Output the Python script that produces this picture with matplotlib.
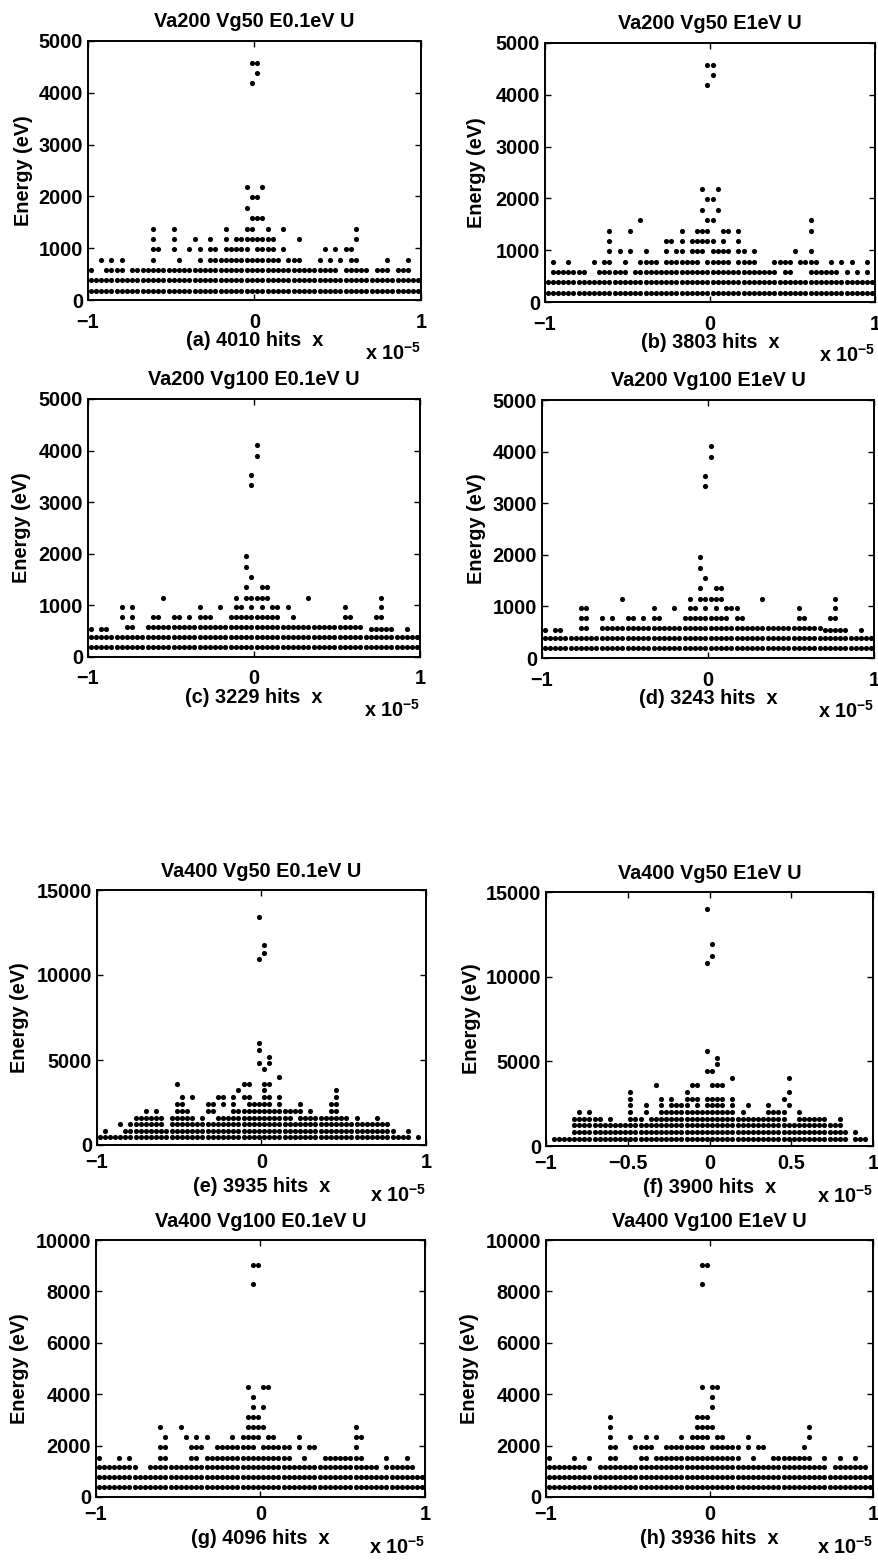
import numpy as np
import matplotlib
matplotlib.use("Agg")
import matplotlib.pyplot as plt

plt.rcParams['font.family'] = ['Liberation Sans', 'DejaVu Sans']
plt.rcParams['font.weight'] = 'bold'
plt.rcParams['mathtext.fontset'] = 'custom'
plt.rcParams['mathtext.rm'] = 'Liberation Sans:bold'
plt.rcParams['mathtext.default'] = 'regular'

# ---------------------------------------------------------------------------
# Hit data: each row is (energy in eV, occupied detector columns).
# Detector has 64 columns spanning x = -1 .. 1 (units of 1e-5).
# ---------------------------------------------------------------------------
N_COLS = 64

titles = ["Va200 Vg50 E0.1eV U", "Va200 Vg50 E1eV U",
          "Va200 Vg100 E0.1eV U", "Va200 Vg100 E1eV U",
          "Va400 Vg50 E0.1eV U", "Va400 Vg50 E1eV U",
          "Va400 Vg100 E0.1eV U", "Va400 Vg100 E1eV U"]

hit_labels = ["(a) 4010 hits  x", "(b) 3803 hits  x",
              "(c) 3229 hits  x", "(d) 3243 hits  x",
              "(e) 3935 hits  x", "(f) 3900 hits  x",
              "(g) 4096 hits  x", "(h) 3936 hits  x"]

y_max = [5000, 5000, 5000, 5000, 15000, 15000, 10000, 10000]
y_step = [1000, 1000, 1000, 1000, 5000, 5000, 2000, 2000]

x_ticks = [-1, 0, 1]
x_tick_labels = ["\u22121", "0", "1"]
x_ticks_f = [-1, -0.5, 0, 0.5, 1]
x_tick_labels_f = ["\u22121", "\u22120.5", "0", "0.5", "1"]

a_rows = [
    (180, "0-63"),
    (380, "0-63"),
    (580, "0,3-6,8-47,49-53,55-57,59-61"),
    (780, "2,4,6,12,17,21,23-36,38-40,44,46,48,50,51,57,61"),
    (980, "12,13,16,19,21,23,24,26-30,32-35,37,45,47,49,50"),
    (1180, "12,16,20,23,26,28-35,40,51"),
    (1380, "12,16,26,30,31,34,37,51"),
    (1580, "31,32,33"),
    (1780, "30"),
    (1980, "31,32"),
    (2180, "30,33"),
    (4180, "31"),
    (4380, "32"),
    (4580, "31,32"),
]

b_rows = [
    (180, "0-63"),
    (380, "0-63"),
    (580, "1-7,10-15,17-44,46,47,51-56,58,60,62"),
    (780, "1,4,9,11,12,15,18-21,23-29,31-35,37-40,44-47,49-52,55,57,59,62"),
    (980, "12,14,16,19,23,25,26,28-30,32-35,37,38,40,48,51"),
    (1180, "12,23,24,26,28-32,34,37"),
    (1380, "12,16,26,29-31,34,35,37,51"),
    (1580, "18,31,32,51"),
    (1780, "30,33"),
    (1980, "31,32"),
    (2180, "30,33"),
    (4180, "31"),
    (4380, "32"),
    (4580, "31,32"),
]

c_rows = [
    (190, "0-63"),
    (385, "0-63"),
    (540, "0,2,3,54-58,61"),
    (575, "7,8,11-52"),
    (770, "6,8,12,13,16,17,19,21-23,27-36,39,49,50,55,56"),
    (960, "6,8,21,25,28,29,31,33,35,36,38,49,56"),
    (1150, "14,28,30-34,42,56"),
    (1350, "30,33,34"),
    (1550, "31"),
    (1750, "30"),
    (1950, "30"),
    (3330, "31"),
    (3530, "31"),
    (3900, "32"),
    (4100, "32"),
]

d_rows = [
    (190, "0-63"),
    (385, "0-63"),
    (540, "0,2,3,54-58,61"),
    (575, "7,8,11-53"),
    (770, "7,8,11,13,16,17,19,21,22,27-35,37,38,49,50,55,56"),
    (960, "7,8,21,25,28,29,31,33,35-37,49,56"),
    (1150, "15,28,30-34,42,56"),
    (1350, "30,33,34"),
    (1550, "31"),
    (1750, "30"),
    (1950, "30"),
    (3330, "31"),
    (3530, "31"),
    (3900, "32"),
    (4100, "32"),
]

e_rows = [
    (455, "0-60,62"),
    (840, "1,5-57,60"),
    (1215, "4,6-12,14-56"),
    (1610, "7-12,14-18,20,23-37,39-48,50,54"),
    (2010, "9,11,15-17,21,22,26-39,41,45,46"),
    (2410, "15,16,21,22,24,26,29-33,35,39,45,46"),
    (2810, "16,18,23,24,26,28,29,32,33,35,46"),
    (3210, "27,32,46"),
    (3610, "15,28,29,32,33"),
    (4000, "35"),
    (4450, "32"),
    (4800, "31,33"),
    (5200, "33"),
    (5600, "31"),
    (6000, "31"),
    (10950, "31"),
    (11300, "32"),
    (11750, "32"),
    (13400, "31"),
]

f_rows = [
    (430, "1-58,60-62"),
    (830, "5-58,60"),
    (1220, "5-57"),
    (1620, "5-10,12,16-18,20-46,49-54,57"),
    (2010, "6,8,16,19,22-36,38,43-46,49"),
    (2410, "16,19,22,24-27,29,31-34,36,39,43,47"),
    (2800, "16,22,24,27-29,31-34,36,46"),
    (3195, "16,27,47"),
    (3590, "21,28,29,32-34"),
    (3990, "36,47"),
    (4450, "31,32"),
    (4870, "33"),
    (5180, "33"),
    (5600, "31"),
    (10830, "31"),
    (11200, "32"),
    (11900, "32"),
    (14000, "31"),
]

g_rows = [
    (370, "0-63"),
    (760, "0-63"),
    (1150, "0-7,10-54,56-61"),
    (1520, "0,4,6,12,13,18,19,21-37,40,44-51,56,60"),
    (1930, "12,13,18-20,23-30,32-37,39,41,42,50"),
    (2320, "13,17,19,21,26,28-31,33,34,39,50,51"),
    (2710, "12,16,29-32,50"),
    (3110, "29,30,31"),
    (3500, "30,32"),
    (3890, "30"),
    (4270, "29,32,33"),
    (8270, "30"),
    (9040, "30,31"),
]

h_rows = [
    (370, "0-63"),
    (760, "0-63"),
    (1150, "0-7,10-54,56-62"),
    (1520, "0,5,8,12,13,18,19,21-37,40,44-51,54,57,60"),
    (1930, "12,13,17-20,23-30,32-37,39,41,42,50"),
    (2320, "12,16,19,21,26,28-31,33,34,39,51"),
    (2710, "12,29-32,51"),
    (3110, "12,29,30,31"),
    (3500, "32"),
    (3890, "32"),
    (4270, "30,32,33"),
    (8270, "30"),
    (9040, "30,31"),
]

panel_rows = [a_rows, b_rows, c_rows, d_rows, e_rows, f_rows, g_rows, h_rows]

# ---------------------------------------------------------------------------
# Layout (pixels on a 879 x 1564 canvas): left, top, right, bottom of each box
# ---------------------------------------------------------------------------
W, H = 879, 1564
boxes = [(88, 41, 421, 300), (545, 43, 875, 302),
         (88, 399, 420, 657), (542, 400, 874, 658),
         (97, 890, 426, 1145), (546, 892, 873, 1146),
         (96, 1240, 425, 1497), (546, 1240, 873, 1497)]
ylabel_x = [24, 477, 22, 477, 20, 472, 20, 470]

FS = 14.3


def parse_cols(spec):
    out = []
    for part in spec.split(","):
        if "-" in part:
            lo, hi = part.split("-")
            out.extend(range(int(lo), int(hi) + 1))
        else:
            out.append(int(part))
    return out


def col_to_x(cols):
    cols = np.asarray(cols, dtype=float)
    return -1.0 + (cols + 0.5) * 2.0 / N_COLS


def fx(px):
    return px / W


def fy(py):
    return 1.0 - py / H


fig = plt.figure(figsize=(W / 100, H / 100), dpi=100)

for i, rows in enumerate(panel_rows):
    left, top, right, bottom = boxes[i]
    ax = fig.add_axes([fx(left), fy(bottom), (right - left) / W, (bottom - top) / H])

    xs, ys = [], []
    for energy, spec in rows:
        c = col_to_x(parse_cols(spec))
        xs.append(c)
        ys.append(np.full(c.shape, energy, dtype=float))
    xs = np.concatenate(xs)
    ys = np.concatenate(ys)
    ax.plot(xs, ys, linestyle="none", marker="o", ms=3.7, mew=0, color="black")

    ax.set_xlim(-1, 1)
    ax.set_ylim(0, y_max[i])
    if i == 5:
        ax.set_xticks(x_ticks_f)
        ax.set_xticklabels(x_tick_labels_f)
    else:
        ax.set_xticks(x_ticks)
        ax.set_xticklabels(x_tick_labels)
    ax.set_yticks(np.arange(0, y_max[i] + 1, y_step[i]))

    upper = i < 4
    ax.tick_params(axis="both", direction="in", length=4, width=1,
                   top=True, right=True, labelsize=FS, color="black")
    ax.tick_params(axis="x", pad=9 if upper else 6)
    ax.tick_params(axis="y", pad=3.5)
    for sp in ax.spines.values():
        sp.set_linewidth(1.4)

    cx = (left + right) / 2
    cy = (top + bottom) / 2
    fig.text(fx(cx), fy(top - (14 if upper else 13)), titles[i],
             ha="center", va="baseline", fontsize=FS)
    fig.text(fx(cx), fy(bottom + (46 if upper else 47)), hit_labels[i],
             ha="center", va="baseline", fontsize=FS)
    fig.text(fx(right), fy(bottom + (60 if upper else 57)), r"x 10$^{-5}$",
             ha="right", va="baseline", fontsize=FS)
    fig.text(fx(ylabel_x[i]), fy(cy), "Energy (eV)", rotation=90,
             ha="center", va="center", fontsize=FS)

fig.savefig("out.png", dpi=100)
